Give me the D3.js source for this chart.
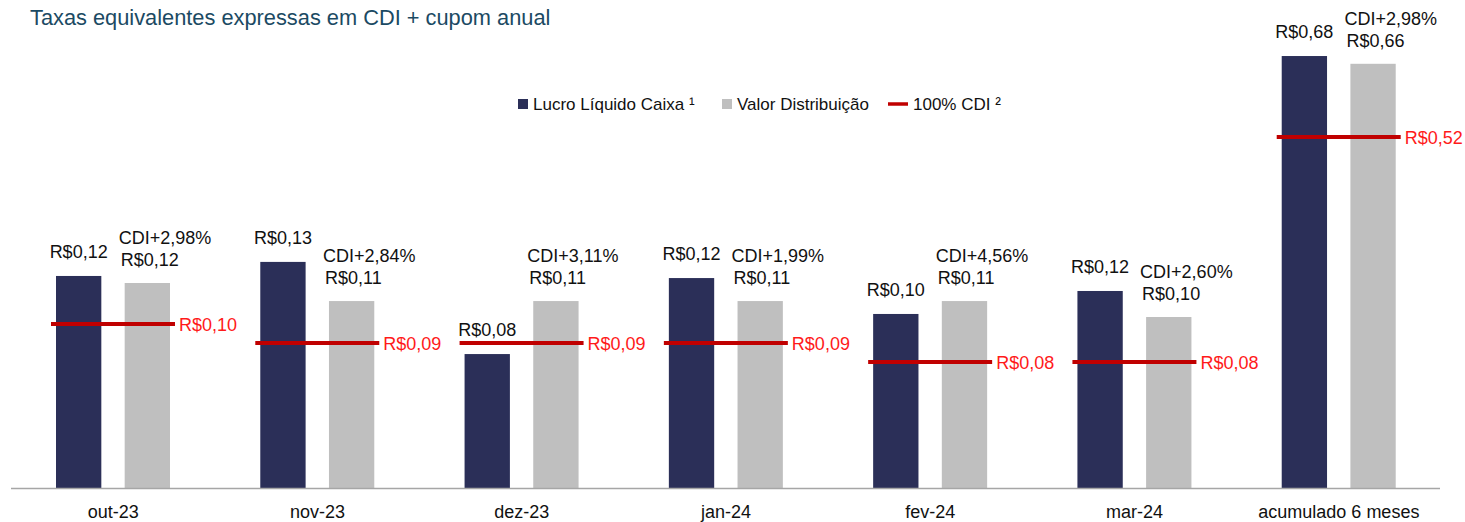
<!DOCTYPE html>
<html>
<head>
<meta charset="utf-8">
<script src="https://cdn.jsdelivr.net/npm/d3@7"></script>
<style>
  html, body { margin: 0; padding: 0; background: #fff; }
  svg { display: block; font-family: "Liberation Sans", Arial, sans-serif; }
  .title { fill: #1b4a63; font-size: 21.8px; }
  .lbl { fill: #111; font-size: 18px; }
  .red-lbl { fill: #ff1a1a; font-size: 18px; }
  .leg { fill: #111; font-size: 17px; }
  .xlab { fill: #111; font-size: 18px; }
</style>
</head>
<body>
<div id="chart"></div>
<script>
// Monthly values (the accumulated column sits on its own scale)
const months = ["out-23", "nov-23", "dez-23", "jan-24", "fev-24", "mar-24"];
const lucro = [0.1237, 0.1311, 0.0826, 0.1226, 0.1037, 0.1158];
const distrib = [0.1200, 0.1105, 0.1105, 0.1105, 0.1105, 0.1021];
const cdi = [0.0984, 0.0884, 0.0884, 0.0884, 0.0784, 0.0784];
const cupom = ["CDI+2,98%", "CDI+2,84%", "CDI+3,11%", "CDI+1,99%", "CDI+4,56%", "CDI+2,60%"];

const accLabel = "acumulado 6 meses";
const accLucro = 0.6795;
const accDistrib = 0.6641;
const accCdi = 0.5188;
const accCupom = "CDI+2,98%";

const W = 1465, H = 522;
const BASE = 488;
const NAVY = "#2b2f58", GREY = "#bfbfbf", RED = "#c00000";

const rows = months.map((m, i) => ({
  cat: m, lucro: lucro[i], distrib: distrib[i], cdi: cdi[i], cupom: cupom[i], acc: false,
}));
rows.push({ cat: accLabel, lucro: accLucro, distrib: accDistrib, cdi: accCdi, cupom: accCupom, acc: true });

const fmt = (v) => "R$" + v.toFixed(2).replace(".", ",");

const svg = d3.select("#chart").append("svg").attr("width", W).attr("height", H);

const x = d3.scaleBand().domain(rows.map((d) => d.cat)).range([11, 1441]).padding(0);
const x1 = d3.scaleBand().domain(["lucro", "distrib"]).range([45, 159]).paddingInner(0.34).paddingOuter(0);
const yM = d3.scaleLinear().domain([0, 0.1]).range([511, 321]);
const yA = d3.scaleLinear().domain([0, 0.5]).range([398.5, 146.5]);
const yOf = (d) => (d.acc ? yA : yM);

svg.append("text").attr("class", "title").attr("x", 30).attr("y", 25)
  .text("Taxas equivalentes expressas em CDI + cupom anual");

// legend
const leg = svg.append("g").attr("transform", "translate(518,104)");
leg.append("rect").attr("x", 0).attr("y", -5).attr("width", 10).attr("height", 10).attr("fill", NAVY);
leg.append("text").attr("class", "leg").attr("x", 15).attr("y", 6).text("Lucro Líquido Caixa ¹");
leg.append("rect").attr("x", 204).attr("y", -5).attr("width", 10).attr("height", 10).attr("fill", GREY);
leg.append("text").attr("class", "leg").attr("x", 219).attr("y", 6).text("Valor Distribuição");
leg.append("line").attr("x1", 370).attr("x2", 390).attr("y1", 0).attr("y2", 0)
  .attr("stroke", RED).attr("stroke-width", 3.5);
leg.append("text").attr("class", "leg").attr("x", 395).attr("y", 6).text("100% CDI ²");

const grp = svg.append("g").selectAll("g").data(rows).join("g")
  .attr("transform", (d) => `translate(${x(d.cat)},0)`);

grp.append("rect")
  .attr("x", x1("lucro")).attr("width", x1.bandwidth())
  .attr("y", (d) => yOf(d)(d.lucro)).attr("height", (d) => BASE - yOf(d)(d.lucro))
  .attr("fill", NAVY);
grp.append("rect")
  .attr("x", x1("distrib")).attr("width", x1.bandwidth())
  .attr("y", (d) => yOf(d)(d.distrib)).attr("height", (d) => BASE - yOf(d)(d.distrib))
  .attr("fill", GREY);

// CDI line across both bars
grp.append("line")
  .attr("x1", x1("lucro") - 5).attr("x2", x1("distrib") + x1.bandwidth() + 5)
  .attr("y1", (d) => yOf(d)(d.cdi)).attr("y2", (d) => yOf(d)(d.cdi))
  .attr("stroke", RED).attr("stroke-width", 4);
grp.append("text").attr("class", "red-lbl")
  .attr("x", x1("distrib") + x1.bandwidth() + 9)
  .attr("y", (d) => yOf(d)(d.cdi) + 7)
  .text((d) => fmt(d.cdi));

// value labels
grp.append("text").attr("class", "lbl").attr("text-anchor", "middle")
  .attr("x", x1("lucro") + x1.bandwidth() / 2)
  .attr("y", (d) => yOf(d)(d.lucro) - 18)
  .text((d) => fmt(d.lucro));
const dl = grp.append("text").attr("class", "lbl")
  .attr("x", x1("distrib") - 6)
  .attr("y", (d) => yOf(d)(d.distrib) - 17);
dl.append("tspan").attr("x", x1("distrib") - 6).attr("dy", -22).text((d) => d.cupom);
dl.append("tspan").attr("x", x1("distrib") - 4).attr("dy", 22).text((d) => fmt(d.distrib));

// x axis
const xAxis = svg.append("g").attr("transform", `translate(0,${BASE})`)
  .call(d3.axisBottom(x).tickSize(0).tickPadding(17));
xAxis.select(".domain").attr("stroke", "#a6a6a6").attr("stroke-width", 1.5)
  .attr("d", `M11,0.5H1440`);
xAxis.selectAll("text").attr("class", "xlab").attr("font-family", null).attr("font-size", null)
  .attr("fill", "#111");
</script>
</body>
</html>
